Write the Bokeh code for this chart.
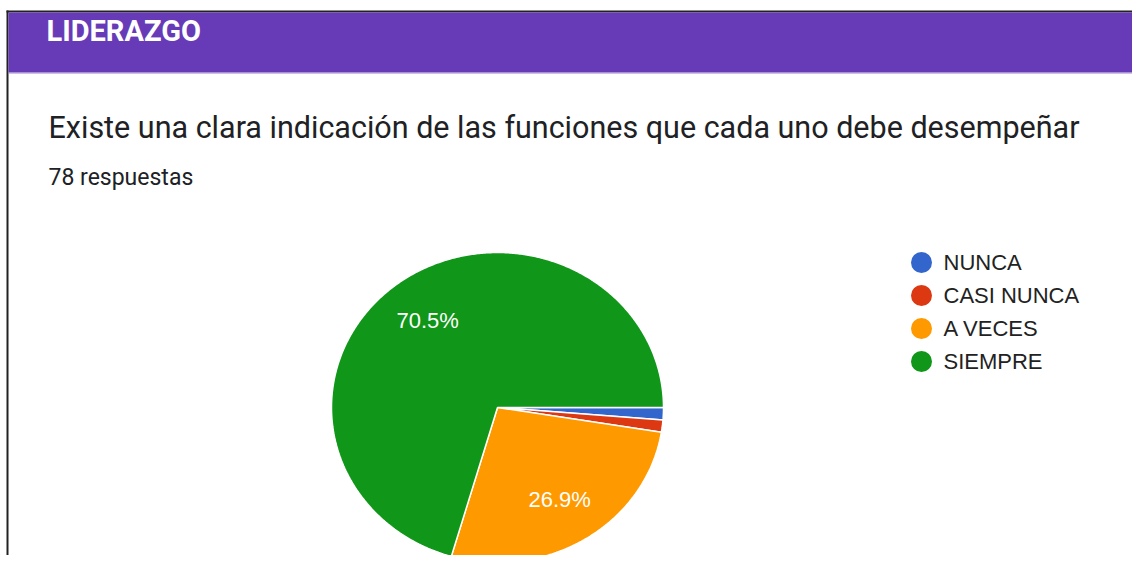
import numpy as np
from bokeh.plotting import figure
from bokeh.models import Range1d
from bokeh.embed import file_html
from bokeh.resources import INLINE
from bokeh.core.properties import value

# ---- data ----
section = "LIDERAZGO"
question = "Existe una clara indicación de las funciones que cada uno debe desempeñar"
responses_label = "78 respuestas"
categories = ["NUNCA", "CASI NUNCA", "A VECES", "SIEMPRE"]
counts = [1, 1, 21, 55]
colors = ["#3366CC", "#DC3912", "#FF9900", "#109618"]

# ---- layout ----
W, H = 1132, 555
p = figure(width=W, height=H, x_range=Range1d(0, W), y_range=Range1d(H, 0),
           output_backend="svg", toolbar_location=None, min_border=0,
           x_axis_location=None, y_axis_location=None)
p.grid.visible = False
p.outline_line_color = None
p.background_fill_color = "white"
p.border_fill_color = "white"

# card border and header
p.quad(left=6, right=W, top=10, bottom=12, fill_color="#222222", line_color=None)
p.quad(left=6, right=8, top=10, bottom=H, fill_color="#222222", line_color=None)
p.quad(left=8, right=W, top=12, bottom=72, fill_color="#673AB7", line_color=None)
p.quad(left=8, right=W, top=72, bottom=73, fill_color="#9C84CF", line_color=None)

p.text(x=[46], y=[30], text=[section], text_font=value("Roboto"), text_font_size="29px",
       text_font_style="bold", text_color="white", text_baseline="middle")
p.text(x=[48], y=[127], text=[question], text_font=value("Roboto"), text_font_size="30.5px",
       text_color="#202124", text_baseline="middle")
p.text(x=[48], y=[176.5], text=[responses_label], text_font=value("Roboto"), text_font_size="23px",
       text_color="#202124", text_baseline="middle")

# ---- pie ----
cx, cy, rx, ry = 497, 407, 166, 155
total = sum(counts)
fracs = np.array(counts) / total
ends = np.cumsum(fracs) * 2 * np.pi
starts = ends - fracs * 2 * np.pi
xs, ys = [], []
for a0, a1 in zip(starts, ends):
    n = max(3, int((a1 - a0) / (2 * np.pi) * 720))
    t = np.linspace(a0, a1, n)
    xs.append([cx] + list(cx + rx * np.cos(t)))
    ys.append([cy] + list(cy + ry * np.sin(t)))
p.patches(xs=xs, ys=ys, fill_color=colors, line_color="white", line_width=1.5)

lx, ly, lt = [], [], []
for f, a0, a1 in zip(fracs, starts, ends):
    if f >= 0.05:
        m = (a0 + a1) / 2
        lx.append(cx + 0.7 * rx * np.cos(m))
        ly.append(cy + 0.7 * ry * np.sin(m))
        lt.append(f"{f * 100:.1f}%")
p.text(x=lx, y=ly, text=lt, text_font=value("Liberation Sans"), text_font_size="22px",
       text_color="white", text_align="center", text_baseline="middle")

# ---- legend ----
leg_y = [262 + 33 * i for i in range(len(categories))]
p.scatter(x=[921] * len(categories), y=leg_y, size=21, fill_color=colors, line_color=None)
p.text(x=[943] * len(categories), y=[v - 0.5 for v in leg_y], text=categories,
       text_font=value("Liberation Sans"), text_font_size="22px", text_color="#222222",
       text_baseline="middle")

open("out.html", "w").write(file_html(p, INLINE))
